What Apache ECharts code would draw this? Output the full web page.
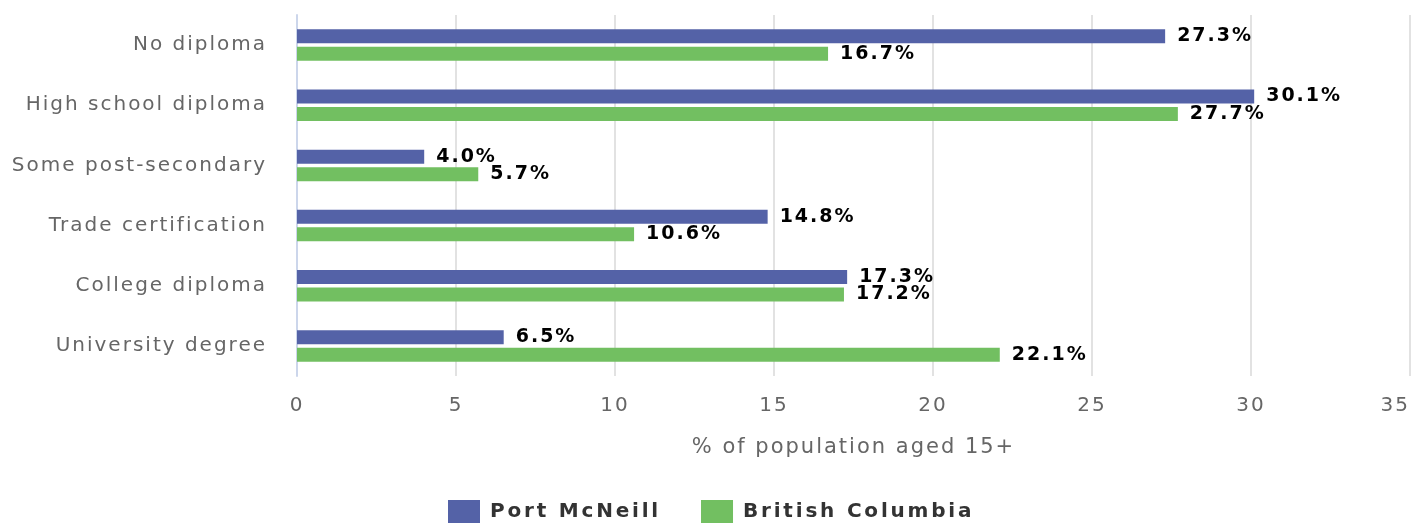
<!DOCTYPE html>
<html lang="en" style="height: 100%">
<head>
  <meta charset="utf-8">
</head>
<body style="height: 100%; margin: 0">
  <div id="container" style="width: 1413px; height: 523px"></div>

  <script type="text/javascript" src="https://fastly.jsdelivr.net/npm/echarts@6/dist/echarts.min.js"></script>
  <script type="text/javascript">
    // the original chart uses spaced-out lettering; canvas supports it natively
    function spacingFor(font) {
      if (/bold/.test(font) && /20px/.test(font)) return '2.8px'; // legend
      return '2px';
    }
    var _fillText = CanvasRenderingContext2D.prototype.fillText;
    var _measureText = CanvasRenderingContext2D.prototype.measureText;
    CanvasRenderingContext2D.prototype.fillText = function () {
      this.letterSpacing = spacingFor(this.font);
      return _fillText.apply(this, arguments);
    };
    CanvasRenderingContext2D.prototype.measureText = function () {
      this.letterSpacing = spacingFor(this.font);
      return _measureText.apply(this, arguments);
    };

    var categories = [
      'No diploma',
      'High school diploma',
      'Some post-secondary',
      'Trade certification',
      'College diploma',
      'University degree'
    ];
    var portMcNeill = [27.3, 30.1, 4.0, 14.8, 17.3, 6.5];
    var britishColumbia = [16.7, 27.7, 5.7, 10.6, 17.2, 22.1];
    var xTicks = { min: 0, max: 35, interval: 5 };

    var FONT = 'DejaVu Sans';

    var dom = document.getElementById('container');
    var myChart = echarts.init(dom, null, { renderer: 'canvas' });
    var option;

    function barLabel() {
      return {
        show: true,
        position: 'right',
        distance: 12,
        fontFamily: FONT,
        fontSize: 19,
        fontWeight: 'bold',
        color: '#000',
        formatter: function (p) {
          return p.value.toFixed(1) + '%';
        }
      };
    }

    option = {
      animation: false,
      color: ['#5462a7', '#72bf61'],
      grid: {
        left: 297,
        right: 2,
        top: 15,
        bottom: 147,
        containLabel: false
      },
      legend: {
        top: 500,
        left: 448,
        padding: 0,
        icon: 'rect',
        itemWidth: 32,
        itemHeight: 24,
        itemGap: 40,
        textStyle: {
          fontFamily: FONT,
          fontSize: 20,
          fontWeight: 'bold',
          color: '#333',
          padding: [0, 0, 0, 5]
        },
        data: ['Port McNeill', 'British Columbia']
      },
      xAxis: {
        type: 'value',
        min: xTicks.min,
        max: xTicks.max,
        interval: xTicks.interval,
        name: '% of population aged 15+',
        nameLocation: 'middle',
        nameGap: 60,
        nameTextStyle: {
          fontFamily: FONT,
          fontSize: 21,
          color: '#666'
        },
        axisLine: { show: false },
        axisTick: { show: false },
        axisLabel: {
          margin: 19,
          fontFamily: FONT,
          fontSize: 20,
          color: '#666',
          alignMaxLabel: 'right'
        },
        splitLine: {
          lineStyle: { color: '#e2e2e2', width: 2 }
        }
      },
      yAxis: {
        type: 'category',
        inverse: true,
        data: categories,
        axisLine: {
          lineStyle: { color: '#ccd6eb', width: 2 }
        },
        axisTick: {
          length: 19,
          lineStyle: { color: '#ccd6eb', width: 2 }
        },
        axisLabel: {
          margin: 30,
          fontFamily: FONT,
          fontSize: 20,
          color: '#666'
        },
        splitLine: { show: false }
      },
      series: [
        {
          name: 'Port McNeill',
          type: 'bar',
          data: portMcNeill,
          barWidth: 14,
          barGap: '25%',
          label: barLabel()
        },
        {
          name: 'British Columbia',
          type: 'bar',
          data: britishColumbia,
          barWidth: 14,
          label: barLabel()
        }
      ]
    };

    if (option && typeof option === 'object') {
      myChart.setOption(option);
    }

    window.addEventListener('resize', myChart.resize);
  </script>
</body>
</html>
